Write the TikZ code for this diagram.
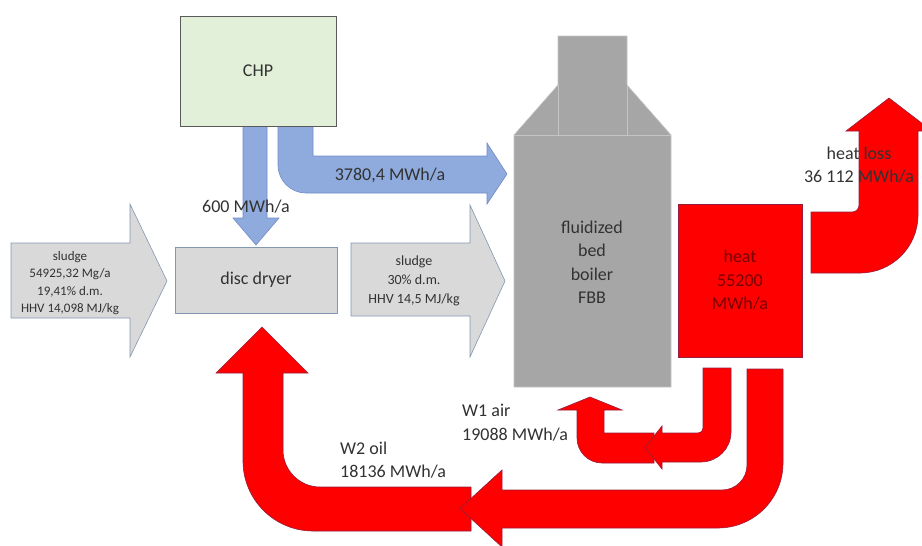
\documentclass[tikz,border=0pt]{standalone}
\usepackage{fontspec}
\setmainfont{Carlito}
\definecolor{chpfill}{RGB}{226,240,217}
\definecolor{boxline}{RGB}{90,90,90}
\definecolor{bluefill}{RGB}{143,170,220}
\definecolor{blueline}{RGB}{110,140,200}
\definecolor{grayfill}{RGB}{217,217,217}
\definecolor{grayline}{RGB}{132,151,176}
\definecolor{fbbfill}{RGB}{166,166,166}
\definecolor{fbbline}{RGB}{196,196,196}
\definecolor{redfill}{RGB}{255,0,0}
\definecolor{redline}{RGB}{150,30,60}
\definecolor{txt}{RGB}{50,50,50}
\definecolor{heattxt}{RGB}{120,0,0}
\tikzset{
  bluearrow/.style={fill=bluefill, draw=blueline, line width=0.6pt, line join=miter},
  grayarrow/.style={fill=grayfill, draw=grayline, line width=0.6pt, line join=miter},
  redarrow/.style={fill=redfill, draw=redline, line width=0.6pt, line join=miter},
  lbl/.style={text=txt, align=center, inner sep=0pt},
  lbll/.style={text=txt, align=left, inner sep=0pt, anchor=west},
  smalltxt/.style={font=\fontsize{13}{17.5}\selectfont},
  midtxt/.style={font=\fontsize{14}{19}\selectfont},
}
\begin{document}
\begin{tikzpicture}[x=1pt,y=-1pt, font=\fontsize{18}{23.5}\selectfont]
\path[use as bounding box] (0,0) rectangle (922,546);
\clip (0,0) rectangle (922,546);

% blue arrows from CHP
\draw[bluearrow] (243,126) -- (267,126) -- (267,218) -- (279,218) -- (256,245) -- (233,218) -- (243,218) -- cycle;
\draw[bluearrow] (278,126) -- (313,126) -- (313,156) -- (487,156) -- (487,143) -- (507,174) -- (487,204) -- (487,193)
  -- (306,193) .. controls (290.5,193) and (278,180.5) .. (278,165) -- cycle;

% CHP and disc dryer
\node[draw=boxline, fill=chpfill, line width=0.6pt, minimum width=156pt, minimum height=110pt, lbl] (chp) at (258,71) {CHP};
\node[draw=grayline, fill=grayfill, line width=0.6pt, minimum width=162pt, minimum height=66pt, lbl] (dryer) at (256,280) {disc dryer};

% sludge arrows
\draw[grayarrow] (11,243) -- (130,243) -- (130,204) -- (167,281) -- (130,357) -- (130,318) -- (11,318) -- cycle;
\draw[grayarrow] (351,243) -- (470,243) -- (470,205) -- (505,281) -- (470,357) -- (470,316) -- (351,316) -- cycle;

% FBB
\fill[fbbfill] (514,135) -- (558,85) -- (558,36) -- (627,36) -- (627,85) -- (671,135) -- (671,387) -- (514,387) -- cycle;
\draw[fbbline, line width=0.6pt] (514,135) -- (558,85) -- (558,36) -- (627,36) -- (627,85) -- (671,135) -- (671,387) -- (514,387) -- cycle;
\draw[fbbline, line width=0.6pt] (514,135) -- (671,135) (558,85) -- (558,135) (627,85) -- (627,135);
\coordinate (fbbc) at (592,262);

% heat box
\node[draw=redline, fill=redfill, line width=0.6pt, minimum width=124pt, minimum height=153pt] (heat) at (740,280.5) {};

% heat loss arrow
\draw[redarrow] (811,212) -- (852,212) .. controls (856,212) and (859,209) .. (859,205) -- (859,131) -- (846,131) -- (889,98) -- (932,131) -- (918,131)
  -- (918,215) .. controls (918,247) and (892,273) .. (860,273) -- (811,273) -- cycle;

% W1 air arrow
\draw[redarrow] (654,433) -- (654,463) -- (602,463) .. controls (588.2,463) and (577,451.8) .. (577,438) -- (577,410) -- (558,410) -- (590,397) -- (622,410) -- (604,410) -- (604,433) -- cycle;
% small J from heat
\draw[redarrow] (703,368) -- (731,368) -- (731,432) .. controls (731,448.6) and (717.6,462) .. (701,462) -- (662,462) -- (662,469) -- (645,447.5) -- (662,426) -- (662,433)
  -- (698,433) .. controls (701,433) and (703,431) .. (703,428) -- cycle;

% W2 oil arrow
\draw[redarrow] (471,487) -- (471,531) -- (313,531) .. controls (274.4,531) and (243,499.6) .. (243,461) -- (243,373) -- (216,373) -- (262,327) -- (308,373) -- (283,373)
  -- (283,450) .. controls (283,470.4) and (299.6,487) .. (320,487) -- cycle;
% big J from heat
\draw[redarrow] (747,369) -- (783,369) -- (783,463) .. controls (783,498.9) and (753.9,528) .. (718,528) -- (502,528) -- (502,547) -- (460,508.5) -- (502,470) -- (502,490)
  -- (722,490) .. controls (735.8,490) and (747,478.8) .. (747,465) -- cycle;

% labels
\node[lbl] (l600) at (246,207) {600 MWh/a};
\node[lbl] (l3780) at (390,175) {3780,4 MWh/a};
\node[lbl, smalltxt] (lsl1) at (70,283) {sludge\\54925,32 Mg/a\\19,41\% d.m.\\HHV 14,098 MJ/kg};
\node[lbl, midtxt] (lsl2) at (414,281) {sludge\\30\% d.m.\\HHV 14,5 MJ/kg};
\node[lbl] (lfbb) at (fbbc) {fluidized\\bed\\boiler\\FBB};
\node[lbl, text=heattxt] (lheat) at (heat) {heat\\55200\\MWh/a};
\node[lbl] (lloss) at (859,165) {heat loss\\36 112 MWh/a};
\node[lbll] (lw2) at (340,460) {W2 oil\\18136 MWh/a};
\node[lbll] (lw1) at (462,422.5) {W1 air\\19088 MWh/a};
\end{tikzpicture}
\end{document}
